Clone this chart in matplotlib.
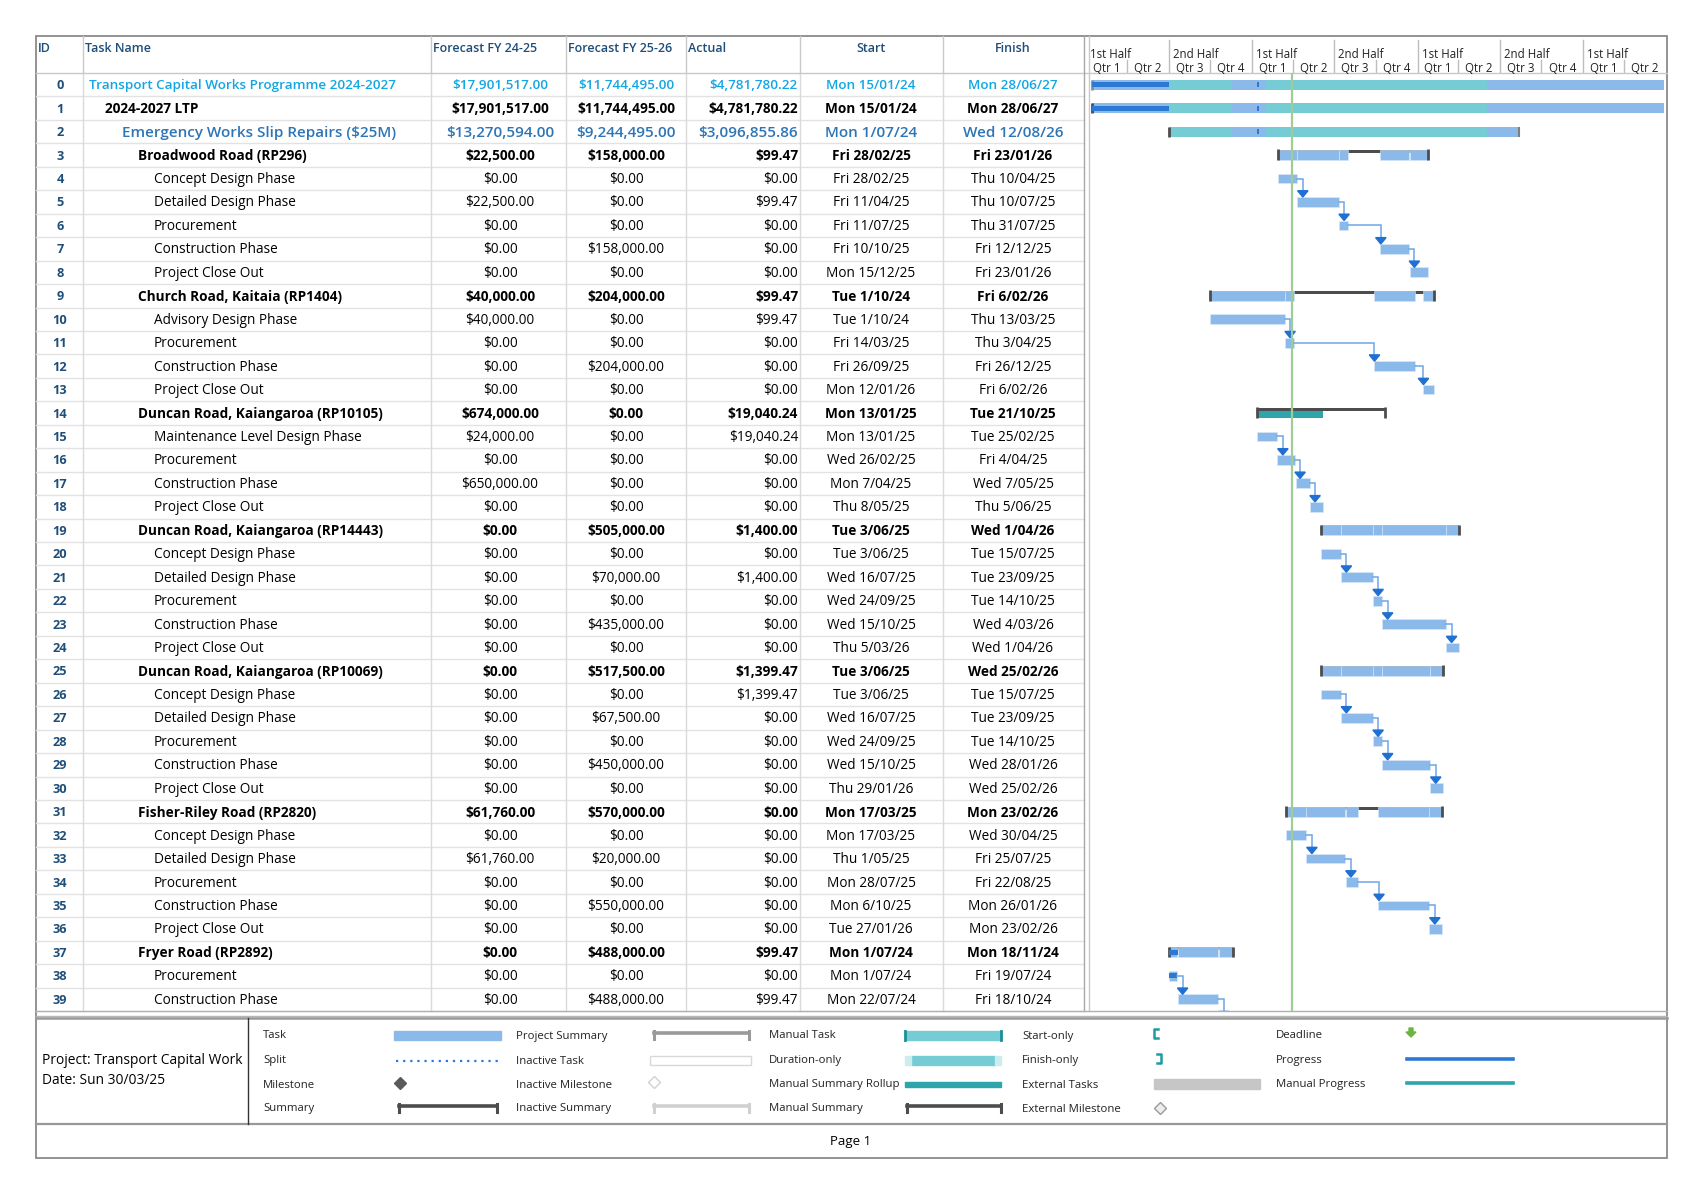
"""MS Project style gantt - Transport Capital Works Programme"""
import datetime as dt
import matplotlib
matplotlib.use("Agg")
import matplotlib.pyplot as plt
import matplotlib.dates as mdates
from matplotlib import font_manager as fm
from matplotlib.patches import Rectangle, Polygon

#Task table
task_names = [
    "Transport Capital Works Programme 2024-2027",
    "2024-2027 LTP",
    "Emergency Works Slip Repairs ($25M)",
    "Broadwood Road (RP296)",
    "Concept Design Phase",
    "Detailed Design Phase",
    "Procurement",
    "Construction Phase",
    "Project Close Out",
    "Church Road, Kaitaia (RP1404)",
    "Advisory Design Phase",
    "Procurement",
    "Construction Phase",
    "Project Close Out",
    "Duncan Road, Kaiangaroa (RP10105)",
    "Maintenance Level Design Phase",
    "Procurement",
    "Construction Phase",
    "Project Close Out",
    "Duncan Road, Kaiangaroa (RP14443)",
    "Concept Design Phase",
    "Detailed Design Phase",
    "Procurement",
    "Construction Phase",
    "Project Close Out",
    "Duncan Road, Kaiangaroa (RP10069)",
    "Concept Design Phase",
    "Detailed Design Phase",
    "Procurement",
    "Construction Phase",
    "Project Close Out",
    "Fisher-Riley Road (RP2820)",
    "Concept Design Phase",
    "Detailed Design Phase",
    "Procurement",
    "Construction Phase",
    "Project Close Out",
    "Fryer Road (RP2892)",
    "Procurement",
    "Construction Phase",
]
outline_level = [0, 1, 2, 3, 4, 4, 4, 4, 4, 3, 4, 4, 4, 4, 3, 4, 4, 4, 4, 3,
                 4, 4, 4, 4, 4, 3, 4, 4, 4, 4, 4, 3, 4, 4, 4, 4, 4, 3, 4, 4]
forecast_24_25 = [
    "$17,901,517.00", "$17,901,517.00", "$13,270,594.00", "$22,500.00", "$0.00",
    "$22,500.00", "$0.00", "$0.00", "$0.00", "$40,000.00",
    "$40,000.00", "$0.00", "$0.00", "$0.00", "$674,000.00",
    "$24,000.00", "$0.00", "$650,000.00", "$0.00", "$0.00",
    "$0.00", "$0.00", "$0.00", "$0.00", "$0.00",
    "$0.00", "$0.00", "$0.00", "$0.00", "$0.00",
    "$0.00", "$61,760.00", "$0.00", "$61,760.00", "$0.00",
    "$0.00", "$0.00", "$0.00", "$0.00", "$0.00"]
forecast_25_26 = [
    "$11,744,495.00", "$11,744,495.00", "$9,244,495.00", "$158,000.00", "$0.00",
    "$0.00", "$0.00", "$158,000.00", "$0.00", "$204,000.00",
    "$0.00", "$0.00", "$204,000.00", "$0.00", "$0.00",
    "$0.00", "$0.00", "$0.00", "$0.00", "$505,000.00",
    "$0.00", "$70,000.00", "$0.00", "$435,000.00", "$0.00",
    "$517,500.00", "$0.00", "$67,500.00", "$0.00", "$450,000.00",
    "$0.00", "$570,000.00", "$0.00", "$20,000.00", "$0.00",
    "$550,000.00", "$0.00", "$488,000.00", "$0.00", "$488,000.00"]
actual_cost = [
    "$4,781,780.22", "$4,781,780.22", "$3,096,855.86", "$99.47", "$0.00",
    "$99.47", "$0.00", "$0.00", "$0.00", "$99.47",
    "$99.47", "$0.00", "$0.00", "$0.00", "$19,040.24",
    "$19,040.24", "$0.00", "$0.00", "$0.00", "$1,400.00",
    "$0.00", "$1,400.00", "$0.00", "$0.00", "$0.00",
    "$1,399.47", "$1,399.47", "$0.00", "$0.00", "$0.00",
    "$0.00", "$0.00", "$0.00", "$0.00", "$0.00",
    "$0.00", "$0.00", "$99.47", "$0.00", "$99.47"]
start_dates = [
    "Mon 15/01/24", "Mon 15/01/24", "Mon 1/07/24", "Fri 28/02/25", "Fri 28/02/25",
    "Fri 11/04/25", "Fri 11/07/25", "Fri 10/10/25", "Mon 15/12/25", "Tue 1/10/24",
    "Tue 1/10/24", "Fri 14/03/25", "Fri 26/09/25", "Mon 12/01/26", "Mon 13/01/25",
    "Mon 13/01/25", "Wed 26/02/25", "Mon 7/04/25", "Thu 8/05/25", "Tue 3/06/25",
    "Tue 3/06/25", "Wed 16/07/25", "Wed 24/09/25", "Wed 15/10/25", "Thu 5/03/26",
    "Tue 3/06/25", "Tue 3/06/25", "Wed 16/07/25", "Wed 24/09/25", "Wed 15/10/25",
    "Thu 29/01/26", "Mon 17/03/25", "Mon 17/03/25", "Thu 1/05/25", "Mon 28/07/25",
    "Mon 6/10/25", "Tue 27/01/26", "Mon 1/07/24", "Mon 1/07/24", "Mon 22/07/24"]
finish_dates = [
    "Mon 28/06/27", "Mon 28/06/27", "Wed 12/08/26", "Fri 23/01/26", "Thu 10/04/25",
    "Thu 10/07/25", "Thu 31/07/25", "Fri 12/12/25", "Fri 23/01/26", "Fri 6/02/26",
    "Thu 13/03/25", "Thu 3/04/25", "Fri 26/12/25", "Fri 6/02/26", "Tue 21/10/25",
    "Tue 25/02/25", "Fri 4/04/25", "Wed 7/05/25", "Thu 5/06/25", "Wed 1/04/26",
    "Tue 15/07/25", "Tue 23/09/25", "Tue 14/10/25", "Wed 4/03/26", "Wed 1/04/26",
    "Wed 25/02/26", "Tue 15/07/25", "Tue 23/09/25", "Tue 14/10/25", "Wed 28/01/26",
    "Wed 25/02/26", "Mon 23/02/26", "Wed 30/04/25", "Fri 25/07/25", "Fri 22/08/25",
    "Mon 26/01/26", "Mon 23/02/26", "Mon 18/11/24", "Fri 19/07/24", "Fri 18/10/24"]

#Rollup on the top three rows: (start, finish, kind)
programme_rollup = [("15/01/24", "1/07/24", "auto"),
                    ("1/07/24", "18/11/24", "manual"),
                    ("18/11/24", "1/02/25", "auto"),
                    ("1/02/25", "3/06/26", "manual"),
                    ("3/06/26", "28/06/27", "auto")]
#Progress marks (row, start, finish)
progress_marks = [(0, "15/01/24", "1/07/24"), (1, "15/01/24", "1/07/24"),
                  (0, "13/01/25", "16/01/25"), (1, "13/01/25", "16/01/25"),
                  (2, "13/01/25", "16/01/25"),
                  (37, "1/07/24", "22/07/24"), (38, "1/07/24", "19/07/24")]
#Task 40 sits on page 2 but rolls up into Fryer Road
offpage_task = ("21/10/24", "18/11/24")
manual_rollup_rows = [14]
status_date = "30/03/25"

#Colours
TASK_BLUE = '#8BB9EA'
TEAL = '#76CCD4'
DARK_TEAL = '#2EA4AC'
PROG_BLUE = '#2C79D3'
SUM_DARK = '#4D4D4D'
LINK_BLUE = '#6DA6E6'
ARROW_BLUE = '#1F70D2'
HEAD_BLUE = '#1F4E79'
GRID = '#E2E2E2'


#pick a family that really has a bold face
def has_face(fam, words):
    try:
        p = fm.findfont(fm.FontProperties(family=fam, weight='bold'),
                        fallback_to_default=False)
        f = fm.get_font(p)
    except Exception:
        return False
    return f.family_name == fam and any(w in f.style_name for w in words)


FAMILY = 'DejaVu Sans'
for fam in ['Noto Sans', 'Open Sans', 'Lato', 'Roboto', 'Liberation Sans']:
    if has_face(fam, ['Bold']):
        FAMILY = fam
        break
plt.rcParams['font.family'] = [FAMILY, 'DejaVu Sans']
SEMI = 'bold'
try:
    p = fm.findfont(fm.FontProperties(family=FAMILY, weight='semibold'),
                    fallback_to_default=False)
    if 'emi' in fm.get_font(p).style_name:
        SEMI = 'semibold'
except Exception:
    pass

#Page layout in pixels
W, H = 1703, 1194
LEFT, RIGHT, TOP, BOTTOM = 36, 1667, 36, 1158
HEAD_BOT = 73
ROW_H = 23.45
col_edges = [36, 82.5, 431, 566, 686, 800, 943, 1084]
GANTT_L = 1086
PX_PER_DAY = 0.4536
TABLE_BOT = HEAD_BOT + 40 * ROW_H
LEG_TOP, LEG_BOT = 1018, 1124


def day(s):
    return mdates.date2num(dt.datetime.strptime(s.split()[-1], "%d/%m/%y"))


def row_y(i):
    return HEAD_BOT + (i + 0.5) * ROW_H + 1


fig = plt.figure(figsize=(W / 100, H / 100), dpi=100)
bg = fig.add_axes([0, 0, 1, 1])
bg.set_xlim(0, W)
bg.set_ylim(H, 0)
bg.axis('off')

#Table grid
for i in range(1, 41):
    y = HEAD_BOT + i * ROW_H
    bg.plot([LEFT, col_edges[-1]], [y, y], color=GRID, lw=1)
for x in col_edges[1:-1]:
    bg.plot([x, x], [TOP, HEAD_BOT], color='#C8C8C8', lw=1)
    bg.plot([x, x], [HEAD_BOT, TABLE_BOT], color='#DADADA', lw=1)
bg.plot([LEFT, RIGHT], [HEAD_BOT, HEAD_BOT], color='#C8C8C8', lw=1)
bg.plot([1084, 1084], [TOP, TABLE_BOT], color='#A8A8A8', lw=1)
bg.plot([1089, 1089], [TOP, TABLE_BOT], color='#C8C8C8', lw=1)
bg.plot([LEFT, RIGHT], [TABLE_BOT, TABLE_BOT], color='#B0B0B0', lw=1)
bg.plot([LEFT, RIGHT], [LEG_TOP - 2, LEG_TOP - 2], color='#B5B5B5', lw=1)
bg.plot([LEFT, RIGHT], [LEG_TOP, LEG_TOP], color='#999999', lw=1.8)
bg.plot([LEFT, RIGHT], [LEG_BOT, LEG_BOT], color='#999999', lw=1.6)
bg.plot([248, 248], [LEG_TOP, LEG_BOT], color='#333333', lw=1)
bg.add_patch(Rectangle((LEFT, TOP), RIGHT - LEFT, BOTTOM - TOP, fill=False,
                       ec='#8A8A8A', lw=1.3))

#Header labels
hy = 48
for x, lab in [(38, "ID"), (85, "Task Name"), (433, "Forecast FY 24-25"),
               (568, "Forecast FY 25-26"), (688, "Actual")]:
    bg.text(x, hy, lab, color=HEAD_BLUE, fontsize=9, weight=SEMI,
            ha='left', va='center')
bg.text(871, hy, "Start", color=HEAD_BLUE, fontsize=9, weight=SEMI,
        ha='center', va='center')
bg.text(1013, hy, "Finish", color=HEAD_BLUE, fontsize=9, weight=SEMI,
        ha='center', va='center')

#Table rows
indent = [89, 105, 122, 138, 154]
for i, name in enumerate(task_names):
    y = row_y(i)
    lvl = outline_level[i]
    if i == 0:
        kw = dict(color='#12A6E4', fontsize=9.7, weight=SEMI)
    elif i == 2:
        kw = dict(color='#2E75B6', fontsize=11, weight=SEMI)
    elif lvl <= 3:
        kw = dict(color='black', fontsize=9.8, weight='bold')
    else:
        kw = dict(color='black', fontsize=9.8, weight='normal')
    bg.text(60, y, str(i), color=HEAD_BLUE, fontsize=9.2, weight='bold',
            ha='center', va='center')
    bg.text(indent[lvl], y, name, ha='left', va='center', **kw)
    bg.text(500, y, forecast_24_25[i], ha='center', va='center', **kw)
    bg.text(626, y, forecast_25_26[i], ha='center', va='center', **kw)
    bg.text(798, y, actual_cost[i], ha='right', va='center', **kw)
    bg.text(871, y, start_dates[i], ha='center', va='center', **kw)
    bg.text(1013, y, finish_dates[i], ha='center', va='center', **kw)

#Gantt chart
t0 = mdates.date2num(dt.datetime(2024, 1, 1))
t1 = t0 + (RIGHT - GANTT_L) / PX_PER_DAY
gx = fig.add_axes([GANTT_L / W, 1 - TABLE_BOT / H, (RIGHT - GANTT_L) / W,
                   (TABLE_BOT - HEAD_BOT) / H])
gx.set_xlim(t0, t1)
gx.set_ylim(39.5, -0.5)
gx.axis('off')

BAR_H = 0.42
LINE_H = 0.12
PROG_H = 0.2

starts = [day(s) for s in start_dates]
ends = [day(s) + 1 for s in finish_dates]

#Top rows: programme rollup
for row in [0, 1, 2]:
    for s, f, kind in programme_rollup:
        a, b = max(day(s), starts[row]), min(day(f), ends[row])
        if b <= a:
            continue
        gx.barh(row, b - a, left=a, height=BAR_H,
                color=TASK_BLUE if kind == "auto" else TEAL, zorder=2)
    cap = '#8C8C8C' if row == 0 else SUM_DARK
    gx.vlines(starts[row], row - BAR_H / 2, row + BAR_H / 2, color=cap, lw=2, zorder=4)
    if row == 2:
        gx.vlines(ends[row], row - BAR_H / 2, row + BAR_H / 2, color='#7F7F7F',
                  lw=1.5, zorder=4)

#Road summaries with rolled-up subtasks
for row in range(3, 40):
    if outline_level[row] != 3:
        continue
    kids = []
    k = row + 1
    while k < 40 and outline_level[k] == 4:
        kids.append(k)
        k += 1
    s, e = starts[row], ends[row]
    if row in manual_rollup_rows:
        a, b = min(starts[c] for c in kids), max(ends[c] for c in kids)
        gx.barh(row + LINE_H / 2, b - a, left=a, height=BAR_H - LINE_H,
                color=DARK_TEAL, zorder=2)
        gx.barh(row - BAR_H / 2 + LINE_H / 2, e - s, left=s, height=LINE_H * 1.3,
                color=SUM_DARK, zorder=3)
    else:
        gx.barh(row - BAR_H / 2 + LINE_H / 2, e - s, left=s, height=LINE_H,
                color=SUM_DARK, zorder=2)
        segs = [(starts[c], ends[c]) for c in kids]
        if row == 37:
            segs.append((day(offpage_task[0]), day(offpage_task[1]) + 1))
        for a, b in segs:
            gx.barh(row, b - a, left=a, height=BAR_H, color=TASK_BLUE,
                    edgecolor='#D6E7F9', lw=0.4, zorder=3)
    gx.vlines([s, e], row - BAR_H / 2 - 0.03, row + BAR_H / 2, color=SUM_DARK,
              lw=2, zorder=4)

#Sub task bars
for row in range(40):
    if outline_level[row] == 4:
        gx.barh(row, ends[row] - starts[row], left=starts[row], height=BAR_H,
                color=TASK_BLUE, edgecolor='#D6E7F9', lw=0.5, zorder=3)

for row, s, f in progress_marks:
    gx.barh(row, day(f) - day(s), left=day(s), height=PROG_H, color=PROG_BLUE,
            zorder=5)

#Finish-to-start links inside each road
links = []
for row in range(40):
    if outline_level[row] == 4 and row + 1 < 40 and outline_level[row + 1] == 4:
        links.append((row, row + 1, ends[row], starts[row + 1]))
links.append((39, 40, ends[39], day(offpage_task[0])))
for p, q, pe, qs in links:
    xa = max(qs + 2, pe + 12)
    top = q - BAR_H / 2
    gx.plot([pe, xa, xa], [p, p, top - 0.2], color=LINK_BLUE, lw=1.1,
            zorder=6, solid_joinstyle='miter')
    gx.add_patch(Polygon([[xa - 11.5, top - 0.27], [xa + 11.5, top - 0.27],
                          [xa, top]], closed=True, color=ARROW_BLUE, zorder=7,
                         clip_on=True))

gx.axvline(day(status_date), color='#9FCD98', lw=1.6, zorder=8)

#Timescale header
hx = fig.add_axes([GANTT_L / W, 1 - HEAD_BOT / H, (RIGHT - GANTT_L) / W,
                   (HEAD_BOT - TOP) / H])
hx.set_xlim(t0, t1)
hx.set_ylim(HEAD_BOT, TOP)
hx.axis('off')
for year in range(2024, 2028):
    for m, lab in [(1, "1st Half"), (7, "2nd Half")]:
        x = mdates.date2num(dt.datetime(year, m, 1))
        if x >= t1 - 5:
            continue
        if x > t0:
            hx.plot([x, x], [40, HEAD_BOT], color='#BDBDBD', lw=1)
        hx.text(x + 9, 54, lab, fontsize=8.3, ha='left', va='center',
                color='#222222', clip_on=True)
    for qn, m in enumerate([1, 4, 7, 10]):
        x = mdates.date2num(dt.datetime(year, m, 1))
        xe = mdates.date2num(dt.datetime(year + (m == 10), (m + 2) % 12 + 1, 1))
        if xe > t1 + 10:
            continue
        if m in (4, 10):
            hx.plot([x, x], [60, HEAD_BOT], color='#BDBDBD', lw=1)
        hx.text((x + xe) / 2, 68.3, "Qtr %d" % (qn + 1), fontsize=8.3,
                ha='center', va='center', color='#222222')

#Legend block
bg.text(42, 1060, "Project: Transport Capital Work", fontsize=9.9, va='center')
bg.text(42, 1080, "Date: Sun 30/03/25", fontsize=9.9, va='center')
leg_rows = [1036, 1061, 1085, 1109]
leg_cols = [263, 516, 769, 1022, 1276]
key_x = [(394, 501), (652, 749), (905, 1001), (1154, 1260), (1407, 1513)]
legend_items = [
    ["Task", "Split", "Milestone", "Summary"],
    ["Project Summary", "Inactive Task", "Inactive Milestone", "Inactive Summary"],
    ["Manual Task", "Duration-only", "Manual Summary Rollup", "Manual Summary"],
    ["Start-only", "Finish-only", "External Tasks", "External Milestone"],
    ["Deadline", "Progress", "Manual Progress"],
]


def bracket_bar(x0, x1, y, color, lw):
    bg.plot([x0, x1], [y - 3, y - 3], color=color, lw=lw)
    bg.plot([x0, x0], [y - 5, y + 3], color=color, lw=2.2)
    bg.plot([x1, x1], [y - 5, y + 3], color=color, lw=2.2)


for c, labels in enumerate(legend_items):
    x0, x1 = key_x[c]
    for r, lab in enumerate(labels):
        y = leg_rows[r]
        bg.text(leg_cols[c], y, lab, fontsize=8.2, va='center', color='#222222')
        if lab == "Task":
            bg.add_patch(Rectangle((x0, y - 5), x1 - x0, 9, color=TASK_BLUE))
        elif lab == "Split":
            bg.plot([x0 + 2, x1], [y, y], color=PROG_BLUE, lw=1.6, ls=(0, (1, 2.2)))
        elif lab == "Milestone":
            bg.plot(x0 + 6, y - 2, marker='D', ms=6, color='#5A5A5A')
        elif lab == "Summary":
            bracket_bar(x0 + 5, x1 - 4, y, SUM_DARK, 2.6)
        elif lab == "Project Summary":
            bracket_bar(x0 + 2, x1, y, '#9A9A9A', 2.6)
        elif lab == "Inactive Task":
            bg.add_patch(Rectangle((x0 - 2, y - 5), x1 - x0 + 4, 9, fc='white',
                                   ec='#D8D8D8', lw=1))
        elif lab == "Inactive Milestone":
            bg.plot(x0 + 2, y - 3, marker='D', ms=6, mfc='white', mec='#D0D0D0')
        elif lab == "Inactive Summary":
            bracket_bar(x0 + 2, x1, y, '#D0D0D0', 2.6)
        elif lab == "Manual Task":
            bg.add_patch(Rectangle((x0, y - 5), x1 - x0, 9, color=TEAL))
            bg.plot([x0, x0], [y - 5, y + 4], color='#1D8E96', lw=2)
            bg.plot([x1, x1], [y - 5, y + 4], color='#1D8E96', lw=2)
        elif lab == "Duration-only":
            bg.add_patch(Rectangle((x0 + 6, y - 5), x1 - x0 - 12, 9, color=TEAL))
            bg.add_patch(Rectangle((x0, y - 5), 6, 9, color='#CBEDF0'))
            bg.add_patch(Rectangle((x1 - 6, y - 5), 6, 9, color='#CBEDF0'))
        elif lab == "Manual Summary Rollup":
            bg.add_patch(Rectangle((x0, y - 3), x1 - x0, 5, color=DARK_TEAL))
        elif lab == "Manual Summary":
            bracket_bar(x0 + 2, x1, y, SUM_DARK, 2.6)
        elif lab == "Start-only":
            bg.plot([x0 + 4, x0, x0, x0 + 4], [y - 7, y - 7, y + 2, y + 2],
                    color='#1D9AA3', lw=1.8)
        elif lab == "Finish-only":
            bg.plot([x0 + 3, x0 + 7, x0 + 7, x0 + 3], [y - 7, y - 7, y + 2, y + 2],
                    color='#1D9AA3', lw=1.8)
        elif lab == "External Tasks":
            bg.add_patch(Rectangle((x0, y - 6), x1 - x0, 10, color='#C6C6C6'))
        elif lab == "External Milestone":
            bg.plot(x0 + 6, y - 1, marker='D', ms=6, mfc='#EDEDED', mec='#9A9A9A')
        elif lab == "Deadline":
            bg.add_patch(Polygon([[x0 + 2, y - 8], [x0 + 6, y - 8], [x0 + 6, y - 4],
                                  [x0 + 9, y - 4], [x0 + 4, y + 1], [x0 - 1, y - 4],
                                  [x0 + 2, y - 4]], closed=True, color='#6CB33F'))
        elif lab == "Progress":
            bg.plot([x0, x1], [y - 2, y - 2], color=PROG_BLUE, lw=2.6)
        elif lab == "Manual Progress":
            bg.plot([x0, x1], [y - 2, y - 2], color=DARK_TEAL, lw=2.6)

bg.text(851, 1142, "Page 1", fontsize=9.5, ha='center', va='center')

fig.savefig("out.png", dpi=100, facecolor='white')
